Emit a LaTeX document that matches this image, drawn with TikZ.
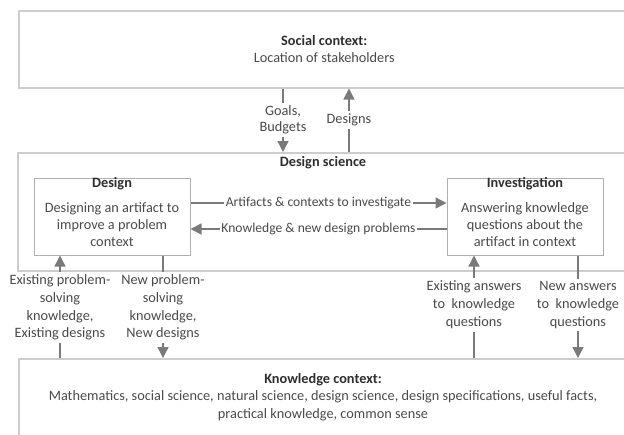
\documentclass[tikz,border=0pt]{standalone}
\usepackage{fontspec}
\setmainfont{Carlito}
\usetikzlibrary{arrows.meta}
\definecolor{boxline}{HTML}{CDCDCD}
\definecolor{innerline}{HTML}{B0B0B0}
\definecolor{arrowgray}{HTML}{7A7A7A}
\definecolor{txt}{HTML}{4A4A4A}
\definecolor{txtb}{HTML}{2E2E2E}
\begin{document}
\begin{tikzpicture}[x=1pt,y=-1pt,
  font=\fontsize{14.3}{17}\selectfont,
  every node/.style={text=txt},
  outerbox/.style={draw=boxline, line width=1.5pt, inner sep=0pt, anchor=north west},
  innerbox/.style={draw=innerline, line width=1pt, minimum width=156pt, minimum height=77pt, inner sep=0pt},
  heading/.style={font=\fontsize{14.3}{17}\selectfont\bfseries, text=txtb, inner sep=0pt},
  body/.style={align=center, inner sep=0pt},
  lbl/.style={align=center, inner sep=2.5pt, fill=white, font=\fontsize{14.3}{17.6}\selectfont},
  midlbl/.style={lbl, inner sep=1.5pt, font=\fontsize{13.6}{16}\selectfont},
  flow/.style={draw=arrowgray, line width=1.3pt, -{Triangle[length=11pt,width=11pt]}},
]
\useasboundingbox (0,0) rectangle (624,434);
\clip (0,0) rectangle (624,434);

% context boxes
\node[outerbox, minimum width=611pt, minimum height=77pt, align=center] (social) at (18,10)
  {{\color{txtb}\bfseries Social context:}\\Location of stakeholders};
\node[outerbox, minimum width=612pt, minimum height=118pt] (dsci) at (17,152) {};
\node[heading] (dstitle) at (323,163) {Design science};
\node[outerbox, minimum width=611pt, minimum height=92pt] (know) at (18,358) {};
\node[body, font=\fontsize{14.3}{17.5}\selectfont] (knowtext) at (323,397)
  {{\color{txtb}\bfseries Knowledge context:}\\
   Mathematics, social science, natural science, design science, design specifications, useful facts,\\
   practical knowledge, common sense};

% design cycle boxes
\node[innerbox] (design) at (112,216.5) {};
\node[heading] (designtitle) at (112,184) {Design};
\node[body] (designtext) at (112,225) {Designing an artifact to\\improve a problem\\context};
\node[innerbox] (invest) at (525,216.5) {};
\node[heading] (investtitle) at (525,184) {Investigation};
\node[body] (investtext) at (525,225) {Answering knowledge\\questions about the\\artifact in context};

% exchanges with the social context
\node[lbl, font=\fontsize{14.3}{16.5}\selectfont] (goals) at (283,120) {Goals,\\Budgets};
\node[lbl] (designs) at (349,120) {Designs};
\draw[flow] (social.south -| goals) -- (goals) -- (dsci.north -| goals);
\draw[flow] (dsci.north -| designs) -- (designs) -- (social.south -| designs);

% exchanges between design and investigation
\draw[flow] ([yshift=13.5pt]design.east) -- ([yshift=13.5pt]invest.west)
  node[midlbl, midway] (artifacts) {Artifacts \& contexts to investigate};
\draw[flow] ([yshift=-12.5pt]invest.west) -- ([yshift=-12.5pt]design.east)
  node[midlbl, midway] (feedback) {Knowledge \& new design problems};

% exchanges with the knowledge context
\node[lbl] (oldknow) at (60,307.5) {Existing problem-\\solving\\knowledge,\\Existing designs};
\node[lbl] (newknow) at (163,307.5) {New problem-\\solving\\knowledge,\\New designs};
\node[lbl, font=\fontsize{14.3}{18}\selectfont] (oldanswers) at (474,305) {Existing answers\\to\ \ knowledge\\questions};
\node[lbl, font=\fontsize{14.3}{18}\selectfont] (newanswers) at (578,305) {New answers\\to\ \ knowledge\\questions};
\draw[flow] (know.north -| oldknow) -- (oldknow) -- (design.south -| oldknow);
\draw[flow] (design.south -| newknow) -- (newknow) -- (know.north -| newknow);
\draw[flow] (know.north -| oldanswers) -- (oldanswers) -- (invest.south -| oldanswers);
\draw[flow] (invest.south -| newanswers) -- (newanswers) -- (know.north -| newanswers);
\end{tikzpicture}
\end{document}
